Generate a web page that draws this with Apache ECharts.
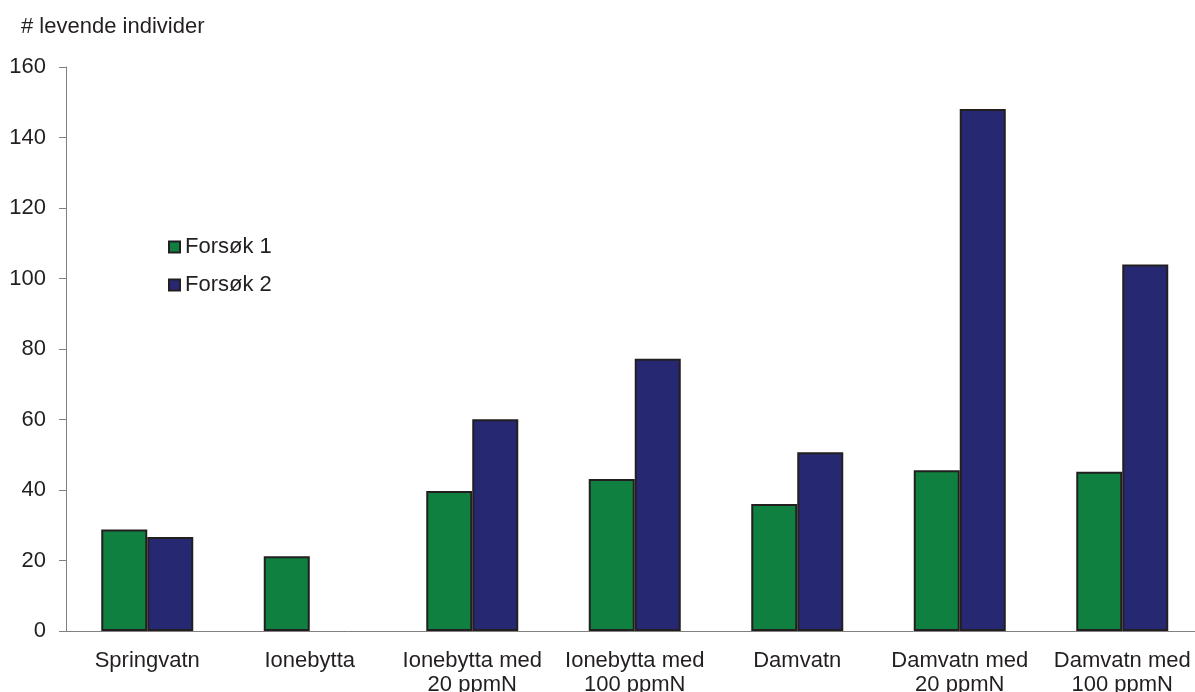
<!DOCTYPE html>
<html>
<head>
<meta charset="utf-8">
<script src="https://cdn.jsdelivr.net/npm/echarts@6/dist/echarts.min.js"></script>
<style>
html,body{margin:0;padding:0;background:#fff;overflow:hidden;}
#chart{width:1195px;height:692px;}
</style>
</head>
<body>
<div id="chart"></div>
<script>
const categories = ['Springvatn', 'Ionebytta', 'Ionebytta med\n20 ppmN', 'Ionebytta med\n100 ppmN', 'Damvatn', 'Damvatn med\n20 ppmN', 'Damvatn med\n100 ppmN'];
const forsok1 = [28.8, 21.2, 39.7, 43.1, 36.0, 45.6, 45.2];
const forsok2 = [26.7, null, 60.1, 77.2, 50.7, 148.1, 104.0];
const seriesNames = ['Forsøk 1', 'Forsøk 2'];
const yTicks = {min: 0, max: 160, interval: 20};
const yTitle = '# levende individer';

const chart = echarts.init(document.getElementById('chart'));
const txt = '#231f20';
const font = 'Liberation Sans, Arial, sans-serif';
const fs = 22;
chart.setOption({
  animation: false,
  backgroundColor: '#ffffff',
  textStyle: {fontFamily: font},
  title: {
    text: yTitle, left: 16, top: 11,
    textStyle: {fontSize: fs, fontWeight: 'normal', color: txt, fontFamily: font}
  },
  legend: {
    orient: 'vertical', left: 163, top: 231,
    icon: 'rect',
    itemWidth: 11, itemHeight: 11, itemGap: 16, itemTextGap: 2,
    textStyle: {fontSize: fs, color: txt, fontFamily: font},
    data: seriesNames
  },
  grid: {left: 66, top: 67, height: 564, width: 1137.5, containLabel: false, outerBoundsMode: 'none'},
  xAxis: {
    type: 'category', data: categories,
    axisLine: {lineStyle: {color: '#808080', width: 1}},
    axisTick: {length: 7, lineStyle: {color: '#808080'}},
    axisLabel: {color: txt, fontSize: fs, lineHeight: 24, margin: 18, interval: 0, fontFamily: font}
  },
  yAxis: {
    type: 'value', min: yTicks.min, max: yTicks.max, interval: yTicks.interval,
    splitLine: {show: false},
    axisLine: {show: true, lineStyle: {color: '#808080', width: 1}},
    axisTick: {show: true, length: 7, lineStyle: {color: '#808080'}},
    axisLabel: {color: txt, fontSize: fs, margin: 20, fontFamily: font}
  },
  series: [
    {name: seriesNames[0], type: 'bar', data: forsok1, barWidth: 46, barGap: '0%',
     itemStyle: {color: '#0f803f', borderColor: '#231f20', borderWidth: 2}},
    {name: seriesNames[1], type: 'bar', data: forsok2, barWidth: 46,
     itemStyle: {color: '#272872', borderColor: '#231f20', borderWidth: 2}}
  ]
});
</script>
</body>
</html>
